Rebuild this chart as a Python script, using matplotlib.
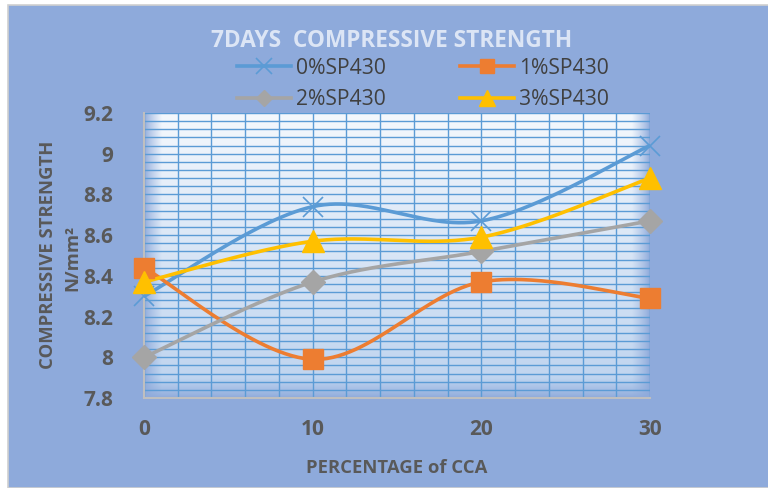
import numpy as np
import matplotlib
matplotlib.use("Agg")
import matplotlib.pyplot as plt
from matplotlib.patches import Rectangle
from matplotlib.lines import Line2D

plt.rcParams['font.family'] = ['Open Sans', 'DejaVu Sans']

# ---- data ----
cca_pct = [0, 10, 20, 30]
series_names = ["0%SP430", "1%SP430", "2%SP430", "3%SP430"]
sp0 = [8.30, 8.74, 8.67, 9.04]
sp1 = [8.44, 7.99, 8.37, 8.29]
sp2 = [8.00, 8.37, 8.52, 8.67]
sp3 = [8.37, 8.57, 8.59, 8.88]
x_ticks = [0, 10, 20, 30]
y_ticks = [7.8, 8.0, 8.2, 8.4, 8.6, 8.8, 9.0, 9.2]
y_tick_labels = ["7.8", "8", "8.2", "8.4", "8.6", "8.8", "9", "9.2"]

BG = "#8EAADB"
GRID = "#5B9BD5"
TXT = "#595959"
colors = ["#5B9BD5", "#ED7D31", "#A5A5A5", "#FFC000"]
markers = ["x", "s", "D", "^"]
msizes = [14, 14, 12, 16]


def smooth_curve(xs, ys, n=60):
    """Cubic Bezier smoothing through the points (Catmull-Rom style)."""
    pts = np.column_stack([xs, ys]).astype(float)
    ext = np.vstack([pts[0], pts, pts[-1]])
    out = []
    t = np.linspace(0, 1, n)[:, None]
    for i in range(1, len(ext) - 2):
        p0, p1, p2, p3 = ext[i - 1], ext[i], ext[i + 1], ext[i + 2]
        c1 = p1 + (p2 - p0) / 6.0
        c2 = p2 - (p3 - p1) / 6.0
        seg = ((1 - t) ** 3) * p1 + 3 * ((1 - t) ** 2) * t * c1 \
            + 3 * (1 - t) * t ** 2 * c2 + t ** 3 * p2
        out.append(seg if i == 1 else seg[1:])
    out = np.vstack(out)
    return out[:, 0], out[:, 1]


fig = plt.figure(figsize=(7.68, 4.88), dpi=100)
fig.patch.set_facecolor("white")
# chart area with thin grey frame
fig.patches.append(Rectangle((8 / 768, 0), 1, 1 - 5 / 488, transform=fig.transFigure,
                             facecolor=BG, edgecolor="#D0D0D0", linewidth=1.2, zorder=-10))

ax = fig.add_axes([144 / 768, 1 - 398 / 488, (650 - 144) / 768, (398 - 113) / 488])
ax.set_facecolor(BG)
ax.set_xlim(0, 30)
ax.set_ylim(7.8, 9.2)

# plot-area gradient: light at the top, bluer downwards, edges fading into the background
H, W = 300, 500
yy = np.linspace(0, 1, H)[:, None]
xx = np.linspace(0, 1, W)[None, :]
top = np.array([244, 248, 253]) / 255.0
bot = np.array([188, 210, 238]) / 255.0
bgc = np.array(matplotlib.colors.to_rgb(BG))
base = top[None, None, :] * (1 - yy[..., None]) + bot[None, None, :] * yy[..., None]
fade_l = np.clip(xx / 0.035, 0, 1)
fade_r = np.clip((1 - xx) / 0.035, 0, 1)
fade_b = np.clip((1 - yy) / 0.07, 0, 1)
w = (fade_l * fade_r * fade_b)[..., None] ** 0.8
img = base * w + bgc[None, None, :] * (1 - w)
ax.imshow(img, extent=[0, 30, 7.8, 9.2], aspect="auto", origin="upper",
          zorder=0, interpolation="bilinear")

# grid
for gx in np.arange(0, 30.01, 2):
    ax.axvline(gx, color=GRID, lw=1.0, zorder=1)
for gy in np.arange(7.8, 9.2001, 0.04):
    ax.axhline(gy, color=GRID, lw=1.0, zorder=1)

for s in ["top", "right"]:
    ax.spines[s].set_visible(False)
for s in ["left", "bottom"]:
    ax.spines[s].set_color("#BFBFBF")
    ax.spines[s].set_linewidth(1.5)
    ax.spines[s].set_zorder(3)

all_series = [sp0, sp1, sp2, sp3]
for vals, c, m, ms, name in zip(all_series, colors, markers, msizes, series_names):
    sx, sy = smooth_curve(cca_pct, vals)
    ax.plot(sx, sy, color=c, lw=2.6, zorder=4, solid_capstyle="round")
    if m == "x":
        ax.plot(cca_pct, vals, linestyle="none", marker=m, markersize=ms,
                markeredgecolor=c, markeredgewidth=1.2, zorder=5, clip_on=False)
    else:
        ax.plot(cca_pct, vals, linestyle="none", marker=m, markersize=ms,
                color=c, markeredgecolor=c, zorder=5, clip_on=False)

ax.set_xticks(x_ticks)
ax.set_xticklabels([str(v) for v in x_ticks])
ax.set_yticks(y_ticks)
ax.set_yticklabels(y_tick_labels)
ax.tick_params(length=0, labelsize=15, labelcolor=TXT)
for lab in ax.get_xticklabels() + ax.get_yticklabels():
    lab.set_fontweight("bold")
ax.tick_params(axis="y", pad=22)
ax.tick_params(axis="x", pad=15)

ax.set_xlabel("PERCENTAGE of CCA", fontsize=13.3, fontweight="bold", color=TXT, labelpad=14)
fig.text(48 / 768, 1 - 255 / 488, "COMPRESSIVE STRENGTH", rotation=90, ha="center",
         va="center", fontsize=13.3, fontweight="bold", color=TXT)
fig.text(72 / 768, 1 - 258 / 488, "N/mm²", rotation=90, ha="center",
         va="center", fontsize=13.3, fontweight="bold", color=TXT)

fig.text(392 / 768, 1 - 41 / 488, "7DAYS  COMPRESSIVE STRENGTH", ha="center", va="center",
         fontsize=16.3, fontweight="bold", color="#DCE5F5")

handles = []
for c, m, ms, name in zip(colors, markers, msizes, series_names):
    if m == "x":
        h = Line2D([], [], color=c, lw=2.6, marker=m, markersize=ms - 3,
                   markeredgewidth=1.2, label=name)
    else:
        h = Line2D([], [], color=c, lw=2.6, marker=m, markersize=ms - 4, label=name)
    handles.append(h)
order = [0, 2, 1, 3]
leg = fig.legend([handles[i] for i in order], [series_names[i] for i in order],
                 ncol=2, loc="center", bbox_to_anchor=(423 / 768, 1 - 84 / 488),
                 frameon=False, fontsize=15.2, handlelength=2.55, columnspacing=3.5,
                 handletextpad=0.25, labelspacing=0.5, labelcolor="#404040")

fig.savefig("out.png", dpi=100, facecolor=fig.get_facecolor())
